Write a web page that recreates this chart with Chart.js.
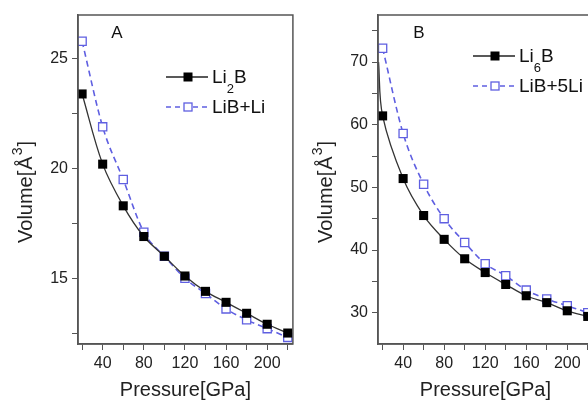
<!DOCTYPE html>
<html>
<head>
<meta charset="UTF-8">
<title>Volume vs pressure</title>
<script src="https://cdn.jsdelivr.net/npm/chart.js@4.4.1/dist/chart.umd.min.js"></script>
<style>
  html, body { margin: 0; padding: 0; background: #fff; overflow: hidden; }
  #wrap { position: relative; width: 588px; height: 403px; overflow: hidden; }
  .panel { position: absolute; top: 0; height: 403px; }
  #pa { left: 0; width: 300px; }
  #pb { left: 300px; width: 300px; }
</style>
</head>
<body>
<div id="wrap">
  <div class="panel" id="pa"><canvas id="chartA"></canvas></div>
  <div class="panel" id="pb"><canvas id="chartB"></canvas></div>
</div>
<script>
// data
var pressure = [20, 40, 60, 80, 100, 120, 140, 160, 180, 200, 220];
var li2b     = [23.4, 20.2, 18.3, 16.9, 16.0, 15.1, 14.4, 13.9, 13.4, 12.9, 12.5];
var libLi    = [25.8, 21.9, 19.5, 17.1, 16.0, 15.0, 14.3, 13.6, 13.1, 12.7, 12.3];
var li6b     = [61.4, 51.4, 45.5, 41.7, 38.6, 36.4, 34.5, 32.7, 31.6, 30.3, 29.4];
var lib5Li   = [72.2, 58.6, 50.5, 45.0, 41.2, 37.8, 35.9, 33.6, 32.2, 31.1, 30.0];
var li6bFitStart = [16, 70];   // fitted curve reaches the left axis here

var xTicks  = [20, 40, 60, 80, 100, 120, 140, 160, 180, 200, 220];
var xLabels = [40, 80, 120, 160, 200];
var yTicksA  = [12.5, 15, 17.5, 20, 22.5, 25];
var yLabelsA = [15, 20, 25];
var yTicksB  = [30, 35, 40, 45, 50, 55, 60, 65, 70, 75];
var yLabelsB = [30, 40, 50, 60, 70];

var FONT = '"Liberation Sans", Arial, sans-serif';
var BLUE = 'rgb(95,95,225)';
Chart.defaults.font.family = FONT;

function pts(xs, ys) {
  return xs.map(function (x, i) { return { x: x, y: ys[i] }; });
}

// draws text made of parts (normal / sub / sup), starting at x, baseline y
function drawParts(ctx, parts, x, y, size) {
  parts.forEach(function (p) {
    var small = p.sub || p.sup;
    ctx.font = (small ? Math.round(size * 0.68) : size) + 'px ' + FONT;
    var dy = p.sub ? size * 0.5 : (p.sup ? -size * 0.5 : 0);
    ctx.fillText(p.t, x + (p.pre || 0), y + dy);
    x += ctx.measureText(p.t).width + (p.pre || 0) + (p.post || 0);
  });
  return x;
}

function partsWidth(ctx, parts, size) {
  var w = 0;
  parts.forEach(function (p) {
    var small = p.sub || p.sup;
    ctx.font = (small ? Math.round(size * 0.68) : size) + 'px ' + FONT;
    w += ctx.measureText(p.t).width + (p.pre || 0) + (p.post || 0);
  });
  return w;
}

var volumeTitle = [{ t: 'Volume[' }, { t: 'Å', pre: 1 }, { t: '3', sup: true, pre: 1 }, { t: ']', pre: 1 }];

var panelDeco = {
  id: 'panelDeco',
  afterDraw: function (chart, args, o) {
    var ctx = chart.ctx, a = chart.chartArea;
    ctx.save();
    ctx.strokeStyle = '#555';
    ctx.lineWidth = 1.5;
    ctx.strokeRect(a.left, a.top, a.right - a.left, a.bottom - a.top);

    ctx.fillStyle = '#111';
    ctx.font = '17px ' + FONT;
    ctx.textAlign = 'center';
    ctx.textBaseline = 'middle';
    ctx.fillText(o.tag, a.left + o.tagX, a.top + o.tagY);

    // rotated y title
    ctx.textAlign = 'left';
    ctx.textBaseline = 'alphabetic';
    ctx.fillStyle = '#222';
    var w = partsWidth(ctx, volumeTitle, 20);
    ctx.save();
    ctx.translate(o.vtX, o.vtY);
    ctx.rotate(-Math.PI / 2);
    drawParts(ctx, volumeTitle, -w / 2, 7, 20);
    ctx.restore();

    o.items.forEach(function (it) {
      var y = a.top + it.y, x1 = a.left + o.lx, x2 = x1 + 42, xm = x1 + 22;
      ctx.strokeStyle = it.color;
      ctx.lineWidth = it.width;
      ctx.setLineDash(it.dash);
      ctx.beginPath(); ctx.moveTo(x1, y); ctx.lineTo(x2, y); ctx.stroke();
      ctx.setLineDash([]);
      if (it.filled) {
        ctx.fillStyle = '#000';
        ctx.fillRect(xm - 4.5, y - 4.5, 9, 9);
      } else {
        ctx.fillStyle = '#fff';
        ctx.fillRect(xm - 4, y - 4, 8, 8);
        ctx.lineWidth = 1.3;
        ctx.strokeRect(xm - 4, y - 4, 8, 8);
      }
      ctx.fillStyle = '#111';
      drawParts(ctx, it.parts, x2 + 4, y + 6, 19);
    });
    ctx.restore();
  }
};

function axisCommon() {
  return {
    type: 'linear',
    grid: { drawOnChartArea: false, tickLength: 6, tickColor: '#555', tickWidth: 1 },
    border: { color: '#555', width: 1.5 }
  };
}

function makeChart(id, cfg) {
  var x = axisCommon();
  x.min = cfg.xMin; x.max = cfg.xMax;
  x.afterBuildTicks = function (s) { s.ticks = xTicks.map(function (v) { return { value: v }; }); };
  x.afterFit = function (s) { s.height = 59; };
  x.ticks = {
    autoSkip: false, maxRotation: 0, padding: 4, color: '#222', font: { size: 16 },
    callback: function (v) { return xLabels.indexOf(v) >= 0 ? String(v) : ''; }
  };
  x.title = { display: true, text: 'Pressure[GPa]', color: '#222', font: { size: 20 }, padding: { top: 0, bottom: 1 } };

  var y = axisCommon();
  y.min = cfg.yMin; y.max = cfg.yMax;
  y.afterBuildTicks = function (s) { s.ticks = cfg.yTicks.map(function (v) { return { value: v }; }); };
  y.afterFit = function (s) { s.width = 78; };
  y.ticks = {
    autoSkip: false, padding: 4, color: '#222', font: { size: 16 },
    callback: function (v) { return cfg.yLabels.indexOf(v) >= 0 ? String(v) : ''; }
  };

  return new Chart(document.getElementById(id), {
    type: 'scatter',
    data: {
      datasets: [
        {
          data: cfg.black,
          showLine: true,
          tension: 0.35,
          borderColor: '#333',
          borderWidth: 1.3,
          pointStyle: 'rect',
          pointRadius: function (c) { return c.raw && c.raw.x < 20 ? 0 : 6.4; },
          pointBackgroundColor: '#000',
          pointBorderColor: '#000',
          pointBorderWidth: 0
        },
        {
          data: cfg.blue,
          showLine: true,
          cubicInterpolationMode: 'monotone',
          borderColor: BLUE,
          borderWidth: 1.6,
          borderDash: [6, 4],
          pointStyle: 'rect',
          pointRadius: 5.8,
          pointBackgroundColor: '#fff',
          pointBorderColor: BLUE,
          pointBorderWidth: 1.3
        }
      ]
    },
    options: {
      responsive: true,
      maintainAspectRatio: false,
      animation: false,
      layout: { padding: { top: 15, right: cfg.padRight, left: 0, bottom: 0 } },
      scales: { x: x, y: y },
      plugins: {
        legend: { display: false },
        tooltip: { enabled: false },
        panelDeco: cfg.deco
      }
    },
    plugins: [panelDeco]
  });
}

makeChart('chartA', {
  xMin: 16, xMax: 225, yMin: 12, yMax: 27,
  yTicks: yTicksA, yLabels: yLabelsA, padRight: 4,
  black: pts(pressure, li2b),
  blue: pts(pressure, libLi),
  deco: {
    tag: 'A', tagX: 39, tagY: 18, lx: 88, vtX: 25, vtY: 192,
    items: [
      { y: 62, color: '#222', width: 1.3, dash: [], filled: true,
        parts: [{ t: 'Li' }, { t: '2', sub: true }, { t: 'B' }] },
      { y: 92, color: BLUE, width: 1.5, dash: [5, 4], filled: false,
        parts: [{ t: 'LiB+Li' }] }
    ]
  }
});

makeChart('chartB', {
  xMin: 15.5, xMax: 225, yMin: 25, yMax: 77.5,
  yTicks: yTicksB, yLabels: yLabelsB, padRight: 3,
  black: [{ x: li6bFitStart[0], y: li6bFitStart[1] }].concat(pts(pressure, li6b)),
  blue: pts(pressure, lib5Li),
  deco: {
    tag: 'B', tagX: 41, tagY: 18, lx: 95, vtX: 25, vtY: 192,
    items: [
      { y: 41, color: '#222', width: 1.3, dash: [], filled: true,
        parts: [{ t: 'Li' }, { t: '6', sub: true }, { t: 'B' }] },
      { y: 71, color: BLUE, width: 1.5, dash: [5, 4], filled: false,
        parts: [{ t: 'LiB+5Li' }] }
    ]
  }
});
</script>
</body>
</html>
